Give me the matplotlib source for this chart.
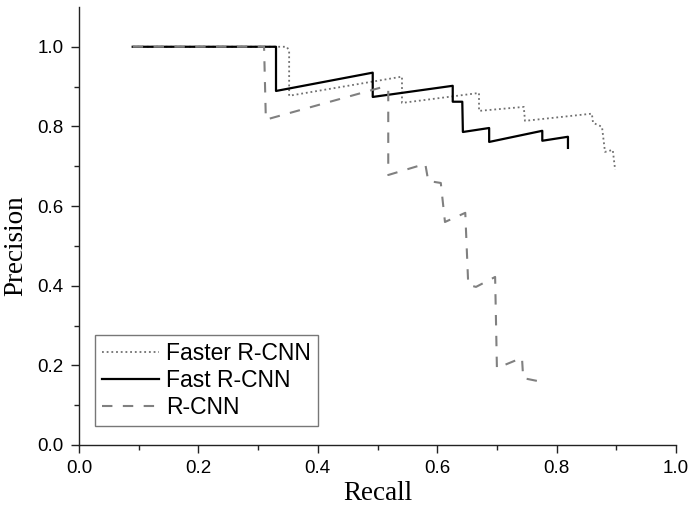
import matplotlib.pyplot as plt
from matplotlib.ticker import FixedLocator

# precision/recall curves
faster_recall = [0.090, 0.348, 0.352, 0.352, 0.541, 0.541, 0.670, 0.670, 0.745, 0.747,
                 0.859, 0.861, 0.876, 0.881, 0.894, 0.898]
faster_precision = [1.000, 1.000, 0.990, 0.877, 0.925, 0.859, 0.884, 0.839, 0.849, 0.814,
                    0.832, 0.809, 0.799, 0.736, 0.741, 0.691]

fast_recall = [0.090, 0.330, 0.330, 0.492, 0.492, 0.626, 0.626, 0.642, 0.643, 0.687,
               0.687, 0.776, 0.776, 0.819, 0.819]
fast_precision = [1.000, 1.000, 0.889, 0.935, 0.874, 0.902, 0.862, 0.862, 0.786, 0.796,
                  0.761, 0.789, 0.764, 0.774, 0.746]

rcnn_recall = [0.090, 0.310, 0.313, 0.509, 0.518, 0.518, 0.580, 0.585, 0.606, 0.613,
               0.647, 0.652, 0.665, 0.697, 0.700, 0.742, 0.744, 0.767]
rcnn_precision = [1.000, 1.000, 0.817, 0.899, 0.894, 0.678, 0.706, 0.663, 0.658, 0.560,
                  0.583, 0.402, 0.397, 0.422, 0.193, 0.219, 0.168, 0.161]

labels = ["Faster R-CNN", "Fast R-CNN", "R-CNN"]
x_ticks = [0.0, 0.2, 0.4, 0.6, 0.8, 1.0]
y_ticks = [0.0, 0.2, 0.4, 0.6, 0.8, 1.0]

fig = plt.figure(figsize=(6.88, 5.07), dpi=100)
ax = fig.add_axes([0.1148, 0.1223, 0.8678, 0.8640])

ax.plot(faster_recall, faster_precision, color="#707070", lw=1.3, ls=(0, (1, 1.6)),
        label=labels[0])
ax.plot(fast_recall, fast_precision, color="black", lw=1.6, label=labels[1])
ax.plot(rcnn_recall, rcnn_precision, color="#808080", lw=1.5, ls=(0, (5, 5)),
        label=labels[2])

ax.set_xlim(0, 1.0)
ax.set_ylim(0, 1.1)
ax.set_xticks(x_ticks)
ax.set_yticks(y_ticks)
ax.set_xticklabels([f"{v:.1f}" for v in x_ticks], family="Liberation Sans", fontsize=13.5)
ax.set_yticklabels([f"{v:.1f}" for v in y_ticks], family="Liberation Sans", fontsize=13.5)
ax.xaxis.set_minor_locator(FixedLocator([0.1, 0.3, 0.5, 0.7, 0.9]))
ax.yaxis.set_minor_locator(FixedLocator([0.1, 0.3, 0.5, 0.7, 0.9]))
ax.tick_params(which="major", direction="out", length=6, width=1, color="#222222")
ax.tick_params(which="minor", direction="out", length=3.6, width=1, color="#222222")
ax.tick_params(axis="x", which="major", pad=5)
ax.tick_params(axis="y", which="major", pad=5)

for side in ["top", "right"]:
    ax.spines[side].set_visible(False)
for side in ["left", "bottom"]:
    ax.spines[side].set_linewidth(1)
    ax.spines[side].set_color("#222222")

ax.set_xlabel("Recall", family="Liberation Serif", fontsize=19.5)
ax.set_ylabel("Precision", family="Liberation Serif", fontsize=19.5)
ax.xaxis.set_label_coords(0.5, -0.082)
ax.yaxis.set_label_coords(-0.085, 0.4545)

leg = ax.legend(loc="lower left", bbox_to_anchor=(0.027, 0.043), borderaxespad=0,
                prop={"family": "Liberation Sans", "size": 16.5}, frameon=True,
                fancybox=False, handlelength=2.5, handletextpad=0.3, labelspacing=0.18,
                borderpad=0.3)
leg.get_frame().set_edgecolor("#555555")
leg.get_frame().set_linewidth(1)

fig.savefig("out.png", dpi=100)
